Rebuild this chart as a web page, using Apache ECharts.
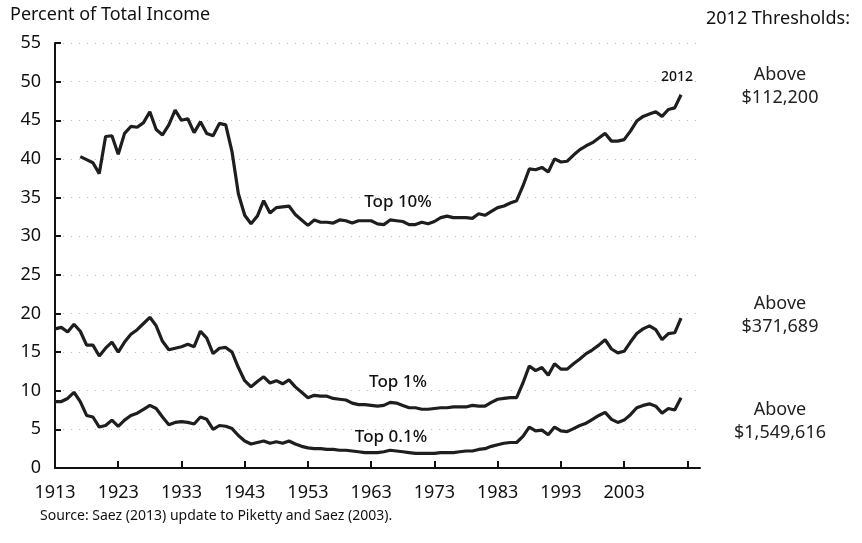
<!DOCTYPE html>
<html>
<head>
<meta charset="utf-8">
<script src="https://cdn.jsdelivr.net/npm/echarts@6/dist/echarts.min.js"></script>
<style>
  html, body { margin: 0; padding: 0; background: #fff; }
  #chart { width: 862px; height: 543px; }
</style>
</head>
<body>
<div id="chart"></div>
<script>
// years on the category axis (axis runs a little past 2012)
const years = [];
for (let y = 1913; y <= 2015; y++) years.push(String(y));

// income shares, percent, 1913-2012
const top10 = [null, null, null, null,
  40.3, 39.9, 39.5, 38.1, 42.9, 43.0, 40.6, 43.3, 44.2, 44.1,
  44.7, 46.1, 43.8, 43.1, 44.4, 46.3, 45.0, 45.2, 43.4, 44.8,
  43.3, 43.0, 44.6, 44.4, 40.9, 35.5, 32.7, 31.6, 32.6, 34.6,
  33.0, 33.7, 33.8, 33.9, 32.8, 32.1, 31.4, 32.1, 31.8, 31.8,
  31.7, 32.1, 32.0, 31.7, 32.0, 32.0, 32.0, 31.6, 31.5, 32.1,
  32.0, 31.9, 31.5, 31.5, 31.8, 31.6, 31.9, 32.4, 32.6, 32.4,
  32.4, 32.4, 32.3, 32.9, 32.7, 33.2, 33.7, 33.9, 34.3, 34.6,
  36.5, 38.7, 38.6, 38.9, 38.3, 40.0, 39.6, 39.7, 40.5, 41.2,
  41.7, 42.1, 42.7, 43.3, 42.3, 42.3, 42.5, 43.6, 44.9, 45.5,
  45.8, 46.1, 45.5, 46.4, 46.6, 48.3];

const top1 = [
  18.0, 18.2, 17.6, 18.6, 17.7, 15.9, 15.9, 14.5, 15.5, 16.3,
  15.0, 16.3, 17.3, 17.9, 18.7, 19.5, 18.4, 16.4, 15.3, 15.5,
  15.7, 16.0, 15.7, 17.7, 16.8, 14.8, 15.5, 15.6, 15.0, 13.0,
  11.3, 10.5, 11.2, 11.8, 11.0, 11.3, 10.9, 11.4, 10.5, 9.8,
  9.1, 9.4, 9.3, 9.3, 9.0, 8.9, 8.8, 8.4, 8.2, 8.2,
  8.1, 8.0, 8.1, 8.5, 8.4, 8.1, 7.8, 7.8, 7.6, 7.6,
  7.7, 7.8, 7.8, 7.9, 7.9, 7.9, 8.1, 8.0, 8.0, 8.5,
  8.9, 9.0, 9.1, 9.1, 11.0, 13.2, 12.6, 13.0, 12.0, 13.5,
  12.8, 12.8, 13.5, 14.1, 14.8, 15.3, 15.9, 16.6, 15.4, 14.9,
  15.1, 16.3, 17.4, 18.0, 18.4, 17.9, 16.6, 17.4, 17.5, 19.4];

const top01 = [
  8.6, 8.6, 9.0, 9.8, 8.6, 6.8, 6.6, 5.3, 5.5, 6.2,
  5.4, 6.2, 6.8, 7.1, 7.6, 8.1, 7.7, 6.6, 5.6, 5.9,
  6.0, 5.9, 5.7, 6.6, 6.3, 5.0, 5.5, 5.4, 5.1, 4.2,
  3.5, 3.1, 3.3, 3.5, 3.2, 3.4, 3.2, 3.5, 3.1, 2.8,
  2.6, 2.5, 2.5, 2.4, 2.4, 2.3, 2.3, 2.2, 2.1, 2.0,
  2.0, 2.0, 2.1, 2.3, 2.2, 2.1, 2.0, 1.9, 1.9, 1.9,
  1.9, 2.0, 2.0, 2.0, 2.1, 2.2, 2.2, 2.4, 2.5, 2.8,
  3.0, 3.2, 3.3, 3.3, 4.1, 5.3, 4.8, 4.9, 4.3, 5.3,
  4.8, 4.7, 5.1, 5.5, 5.8, 6.3, 6.8, 7.2, 6.3, 5.9,
  6.2, 6.9, 7.8, 8.1, 8.3, 8.0, 7.1, 7.7, 7.5, 9.1];

const font = '"Noto Sans", "Open Sans", sans-serif';

const chart = echarts.init(document.getElementById('chart'));

function lineSeries(name, data) {
  return {
    name: name,
    type: 'line',
    data: data,
    showSymbol: false,
    connectNulls: false,
    lineStyle: { color: '#1e1e1e', width: 3.2 },
    emphasis: { disabled: true }
  };
}

// centred text placed by its middle point
function label(x, y, text, size, weight, color) {
  return {
    type: 'text', x: x, y: y,
    style: {
      text: text, fill: color || '#111',
      font: (weight || 'normal') + ' ' + size + 'px ' + font,
      textAlign: 'center', textVerticalAlign: 'middle'
    }
  };
}

const option = {
  backgroundColor: '#fff',
  animation: false,
  grid: { left: 55, right: 162, top: 43, bottom: 75 },
  xAxis: {
    type: 'category',
    data: years,
    boundaryGap: false,
    axisLine: { lineStyle: { color: '#111', width: 2 } },
    axisTick: { inside: true, length: 7, interval: (i) => i % 10 === 0, lineStyle: { color: '#111', width: 2 } },
    axisLabel: {
      interval: (i) => i % 10 === 0 && i <= 90,
      color: '#111', fontSize: 18, fontFamily: font, margin: 16
    },
    splitLine: { show: false }
  },
  yAxis: {
    type: 'value',
    min: 0, max: 55, interval: 5,
    axisLine: { show: true, lineStyle: { color: '#111', width: 2 } },
    axisTick: { show: true, inside: true, length: 6, lineStyle: { color: '#111', width: 2 } },
    axisLabel: { color: '#111', fontSize: 18, fontFamily: font, margin: 14 },
    splitLine: { show: true, lineStyle: { color: '#bbb', type: [1, 7], width: 1 } }
  },
  series: [
    lineSeries('Top 10%', top10),
    lineSeries('Top 1%', top1),
    lineSeries('Top 0.1%', top01)
  ],
  graphic: [
    { type: 'text', left: 10, top: 6, style: { text: 'Percent of Total Income', fill: '#111', font: '18px ' + font } },
    { type: 'text', left: 706, top: 10, style: { text: '2012 Thresholds:', fill: '#111', font: '18px ' + font } },
    label(677, 77, '2012', 14, '500'),
    label(780, 75, 'Above', 18, 'normal', '#222'),
    label(780, 98, '$112,200', 18, 'normal', '#222'),
    label(780, 304, 'Above', 18, 'normal', '#222'),
    label(780, 327, '$371,689', 18, 'normal', '#222'),
    label(780, 410, 'Above', 18, 'normal', '#222'),
    label(780, 433, '$1,549,616', 18, 'normal', '#222'),
    label(398, 202, 'Top 10%', 17, '500'),
    label(398, 382, 'Top 1%', 17, '500'),
    label(391, 437, 'Top 0.1%', 17, '500'),
    { type: 'text', left: 40, top: 509, style: { text: 'Source: Saez (2013) update to Piketty and Saez (2003).', fill: '#111', font: '14px ' + font } }
  ]
};

chart.setOption(option);
</script>
</body>
</html>
